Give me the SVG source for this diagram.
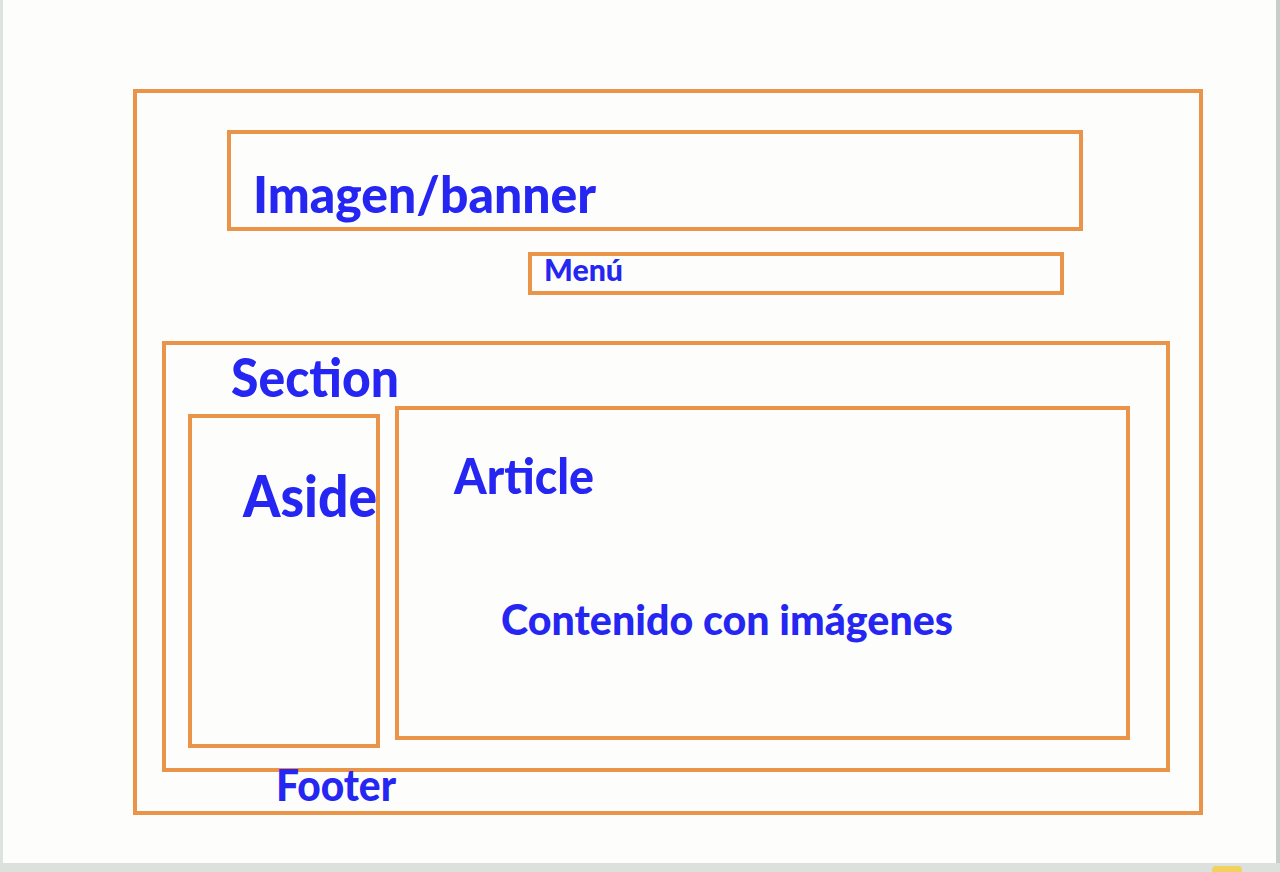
<svg xmlns="http://www.w3.org/2000/svg" width="1280" height="872" viewBox="0 0 1280 872">
  <style>
    .box { fill: none; stroke: #EA944A; stroke-width: 4; }
    .lbl { fill: #2626F2; font-family: "Lato", "Open Sans", "Liberation Sans", sans-serif; font-weight: 900; }
  </style>

  <!-- page background and window edges -->
  <rect x="0" y="0" width="1280" height="872" fill="#FDFEFC"/>
  <rect x="0" y="0" width="3" height="864" fill="#DFE3DF"/>
  <rect x="1276" y="0" width="4" height="864" fill="#C9CDC9"/>
  <rect x="0" y="863" width="1280" height="9" fill="#DDE1DE"/>
  <rect x="1212" y="866" width="30" height="10" rx="4" fill="#F2D25A"/>

  <g id="page">
    <rect class="box" x="135" y="91" width="1066" height="722"/>
  </g>

  <g id="banner">
    <rect class="box" x="229" y="132" width="852" height="97"/>
    <text class="lbl" x="253" y="213" font-size="52" textLength="343" lengthAdjust="spacingAndGlyphs">Imagen/banner</text>
  </g>

  <g id="menu">
    <rect class="box" x="530" y="254" width="532" height="39"/>
    <text class="lbl" x="544" y="281" font-size="31" textLength="79" lengthAdjust="spacingAndGlyphs">Menú</text>
  </g>

  <g id="section">
    <rect class="box" x="164" y="343" width="1004" height="427"/>
    <text class="lbl" x="231" y="397" font-size="53" textLength="168" lengthAdjust="spacingAndGlyphs">Section</text>
  </g>

  <g id="aside">
    <rect class="box" x="190" y="416" width="188" height="330"/>
    <text class="lbl" x="243" y="517" font-size="57" textLength="134" lengthAdjust="spacingAndGlyphs">Aside</text>
  </g>

  <g id="article">
    <rect class="box" x="397" y="408" width="731" height="330"/>
    <text class="lbl" x="454" y="494" font-size="50" textLength="140" lengthAdjust="spacingAndGlyphs">Article</text>
    <text class="lbl" x="501" y="635" font-size="42" textLength="452" lengthAdjust="spacingAndGlyphs">Contenido con imágenes</text>
  </g>

  <g id="footer">
    <text class="lbl" x="276" y="801" font-size="44" textLength="120" lengthAdjust="spacingAndGlyphs">Footer</text>
  </g>

  <g id="connectors"/>
</svg>
